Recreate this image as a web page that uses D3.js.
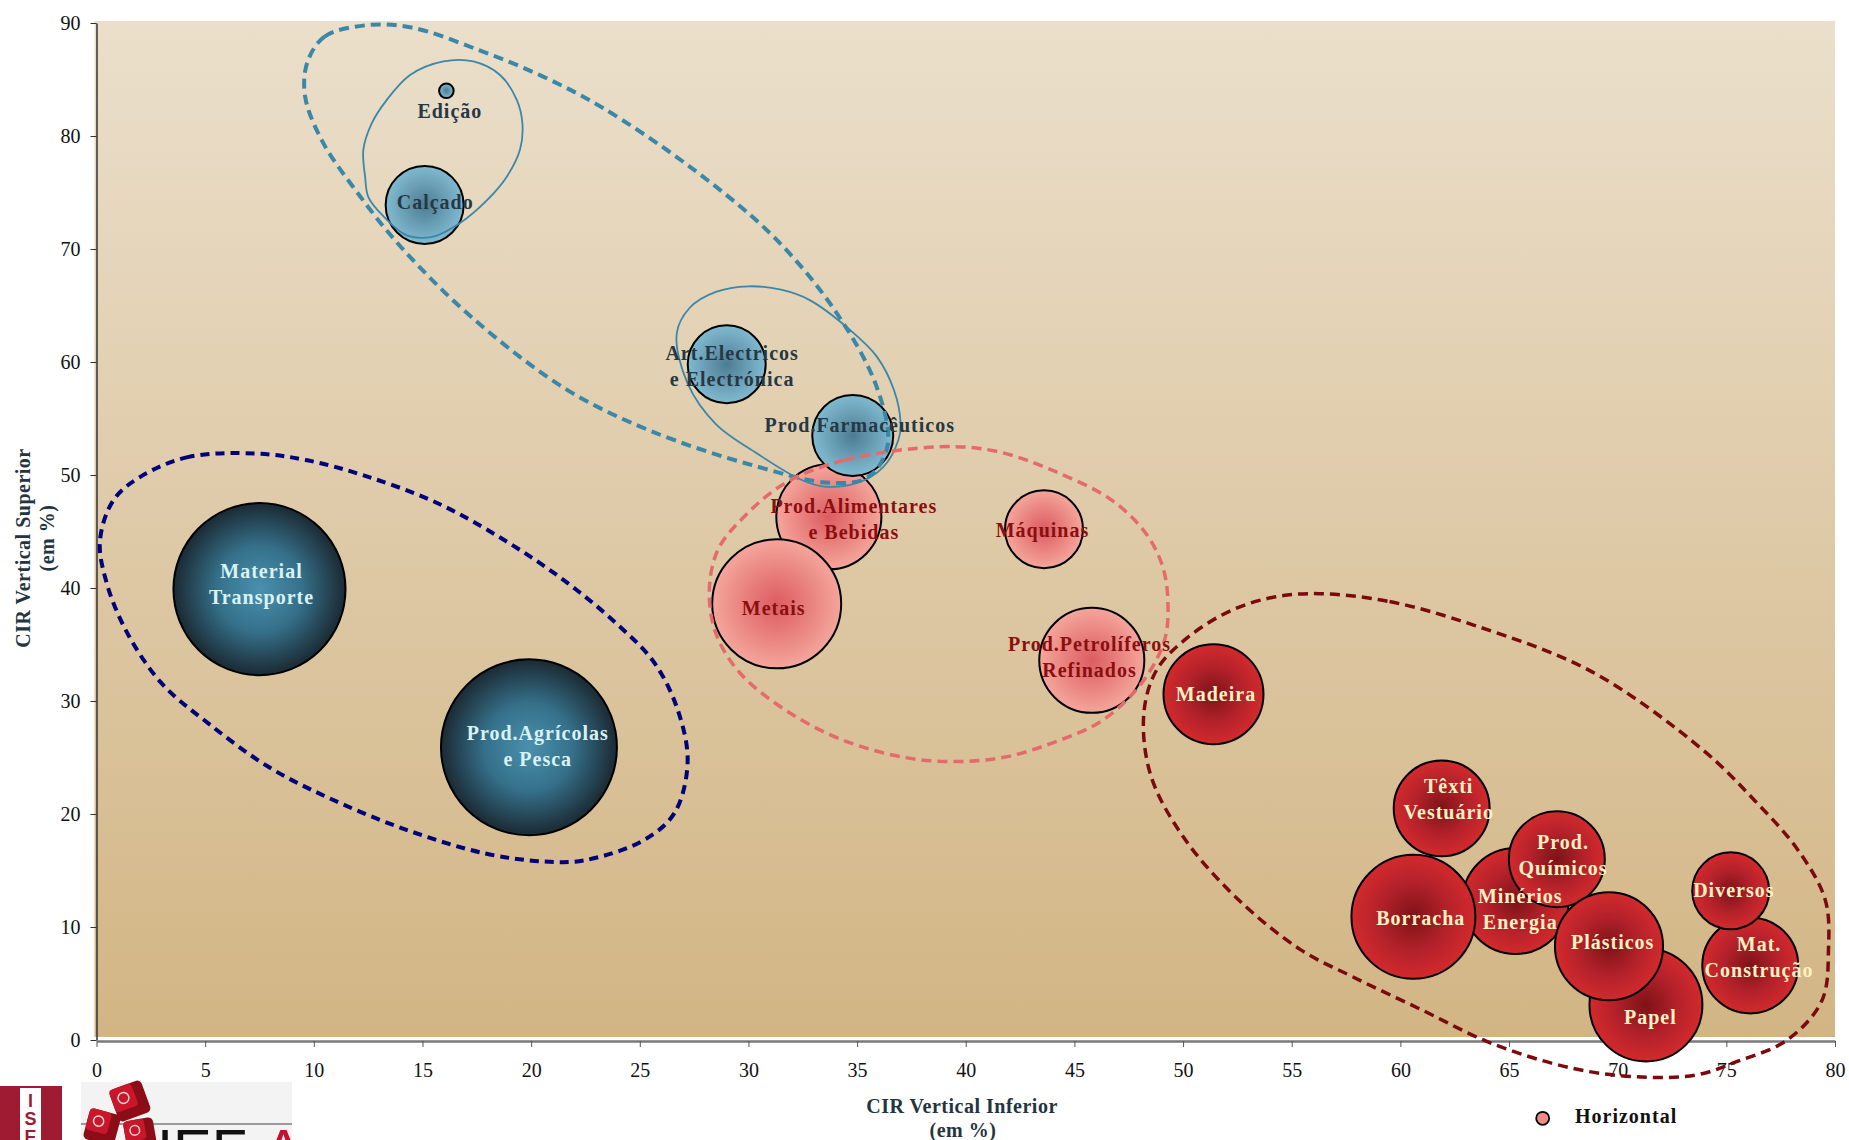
<!DOCTYPE html>
<html><head><meta charset="utf-8">
<script src="https://cdn.jsdelivr.net/npm/d3@7"></script>
<style>body{margin:0;background:#fff;} svg{display:block;}</style>
</head><body>
<svg id="chart" width="1849" height="1140"></svg>
<script>
// ---------------- DATA ----------------
const xTicks = [0,5,10,15,20,25,30,35,40,45,50,55,60,65,70,75,80];
const yTicks = [0,10,20,30,40,50,60,70,80,90];

// Horizontal (pink)
const horizNames = ["Prod.Alimentares\ne Bebidas","Metais","Máquinas","Prod.Petrolíferos\nRefinados"];
const horizX = [33.7, 31.3, 43.6, 45.8];
const horizY = [46.3, 38.6, 45.2, 33.6];
const horizSize = [27.6, 41.6, 15.2, 27.6];

// Vertical Inferior (dark red)
const infNames = ["Minérios\nEnergia","Papel","Mat.\nConstrução","Prod.\nQuímicos","Borracha","Plásticos","Diversos","Têxti\nVestuário","Madeira"];
const infX = [65.3, 71.3, 76.1, 67.2, 60.6, 69.6, 75.2, 61.9, 51.4];
const infY = [12.3, 3.1, 6.6, 16.0, 10.9, 8.3, 13.2, 20.5, 30.6];
const infSize = [28.1, 31.9, 23.0, 23.0, 38.4, 29.2, 14.8, 23.0, 25.0];

// Vertical Superior (light blue)
const supNames = ["Edição","Calçado","Art.Electricos\ne Electrónica","Prod.Farmacêuticos"];
const supX = [16.1, 15.1, 29.0, 34.8];
const supY = [84.0, 73.9, 59.8, 53.5];
const supSize = [0.53, 15.2, 15.2, 16.4];

// Vertical Superior (dark teal)
const darkNames = ["Material\nTransporte","Prod.Agrícolas\ne Pesca"];
const darkX = [7.5, 19.9];
const darkY = [39.9, 25.9];
const darkSize = [74.0, 77.4];

// group outlines (annotation, data units)
const outlineSupBig = [[9.7,86.5],[10.5,88.8],[12.4,89.8],[14.5,89.6],[17.6,87.6],[20.5,85.3],[23.2,82.6],[27.5,77.0],[31.2,71.0],[34.0,64.5],[35.9,57.8],[36.4,52.6],[35.5,49.8],[33.8,49.3],[30.3,50.8],[25.5,53.9],[21.6,57.6],[17.3,63.9],[14.0,70.2],[12.0,75.0],[10.4,79.5],[9.6,83.5]];
const outlineSupA = [[12.36,76.4],[12.28,78.8],[12.66,81.1],[13.36,83.2],[14.43,85.4],[15.96,86.6],[17.34,86.6],[18.57,85.4],[19.34,83.2],[19.6,81.1],[19.49,78.8],[18.88,76.4],[17.96,74.3],[16.73,72.3],[15.5,71.1],[14.28,71.2],[13.2,72.9],[12.51,74.6]];
const outlineSupB = [[26.7,62.5],[27.3,64.8],[28.5,66.2],[30.0,66.7],[31.5,66.4],[32.8,65.5],[34.7,62.8],[35.9,60.5],[36.7,57.5],[37.0,54.6],[36.9,53.1],[36.2,50.7],[35.0,49.3],[33.4,49.0],[32.4,49.6],[30.4,51.9],[28.5,54.5],[27.2,58.1]];
const outlineDark = [[7.35,51.9],[4.25,51.6],[2.07,49.9],[0.79,47.8],[0.16,44.2],[0.43,40.7],[1.34,36.3],[2.98,31.6],[5.16,28.0],[7.89,24.2],[10.6,21.5],[14.26,18.6],[17.9,16.5],[20.6,15.8],[22.45,15.9],[25.2,17.7],[26.6,20.1],[27.2,24.5],[26.8,28.9],[25.7,33.3],[23.9,36.9],[21.5,40.7],[18.8,44.2],[15.7,47.5],[12.4,49.9],[9.7,51.3]];
const outlineHoriz = [[38.8,52.5],[34.4,51.3],[31.7,49.3],[29.8,46.3],[28.6,43.4],[28.2,39.8],[28.5,36.0],[29.6,32.5],[31.7,29.2],[34.4,26.5],[37.9,24.8],[41.4,24.9],[44.0,26.3],[46.3,28.3],[48.1,31.6],[49.15,35.4],[49.3,38.9],[49.06,41.9],[48.3,44.8],[46.7,47.8],[44.0,50.4],[41.4,52.1]];
const outlineInf = [[56.3,39.5],[59.5,38.8],[63.4,36.7],[68.8,32.6],[73.9,25.7],[76.3,21.2],[78.3,16.8],[79.55,12.4],[79.7,8.0],[79.4,3.5],[77.8,0],[75.5,-1.9],[73.6,-3.1],[70.8,-3.25],[67.9,-2.5],[64.2,-0.3],[61.0,2.65],[57.8,5.6],[55.4,8.0],[52.5,12.5],[50.0,18.0],[48.5,23.5],[48.2,29.0],[48.8,32.8],[50.2,35.6],[52.2,38.0],[54.2,39.2]];

// label nudges (pixels, layout only)
const horizLab = [[25,2],[-3,4.5],[-1.5,0.7],[-2.3,-3.8]];
const infLab = [[4.7,8],[4.4,11.8],[8.8,-8.3],[6.2,-4.4],[7.4,1],[3.7,-3.9],[3.1,-1],[7,-9.8],[2.5,0]];
const supLab = [[3.5,20],[10.6,-2.5],[5.4,2],[7,-10]];
const darkLab = [[2,-5.6],[8.8,-1.3]];

// ---------------- CHART ----------------
const svg = d3.select("#chart");
const x = d3.scaleLinear().domain([0,80]).range([96.5,1835]);
const y = d3.scaleLinear().domain([0,90]).range([1040,23]);
const r = d3.scaleSqrt().domain([0,100]).range([0,100]);
const SERIF = "'Liberation Serif','Times New Roman',serif";

const defs = svg.append("defs");
const bg = defs.append("linearGradient").attr("id","bg").attr("x1",0).attr("y1",0).attr("x2",0).attr("y2",1);
bg.append("stop").attr("offset","0%").attr("stop-color","#ebdfcb");
bg.append("stop").attr("offset","100%").attr("stop-color","#d2b584");

function radial(id, stops){
  const g = defs.append("radialGradient").attr("id",id).attr("cx","50%").attr("cy","50%").attr("r","50%");
  stops.forEach(s=>g.append("stop").attr("offset",s[0]).attr("stop-color",s[1]));
}
radial("gHoriz", [["0%","#dc5c61"],["55%","#ea8480"],["100%","#f4a69c"]]);
radial("gInf", [["0%","#7c1317"],["55%","#b3212a"],["100%","#d22a2d"]]);
radial("gSup", [["0%","#4d7c92"],["55%","#6a9fb6"],["100%","#80bad0"]]);
radial("gDark", [["0%","#4a90ad"],["50%","#35708a"],["100%","#1b2a33"]]);

svg.append("rect")
  .attr("x", x(0)-2).attr("y", y(90)-2)
  .attr("width", x(80)-x(0)+2).attr("height", y(0)-y(90)-1)
  .attr("fill","url(#bg)");

// axes
const gy = svg.append("g").attr("transform",`translate(${x(0)},0)`)
  .call(d3.axisLeft(y).tickValues(yTicks).tickSize(6).tickSizeOuter(0).tickPadding(10));
gy.select(".domain").attr("stroke","#333").attr("stroke-width",1.5);
gy.selectAll(".tick line").attr("stroke","#333");
gy.selectAll("text").attr("font-family",SERIF).attr("font-size",20).attr("fill","#111");

const gx = svg.append("g").attr("transform",`translate(0,${y(0)+1})`)
  .call(d3.axisBottom(x).tickValues(xTicks).tickSize(6).tickSizeOuter(0).tickPadding(16));
gx.select(".domain").attr("stroke","#7a7a7a").attr("stroke-width",2.5);
gx.selectAll(".tick line").attr("stroke","#555");
gx.selectAll("text").attr("font-family",SERIF).attr("font-size",20).attr("fill","#111");

// axis titles
const titleColor = "#243540";
const xt = svg.append("text").attr("font-family",SERIF).attr("font-weight","bold").attr("font-size",20)
  .attr("fill",titleColor).attr("text-anchor","middle").attr("letter-spacing",0.5);
xt.append("tspan").attr("x",962).attr("y",1113).text("CIR Vertical Inferior");
xt.append("tspan").attr("x",963).attr("y",1137).text("(em %)");

const yt = svg.append("g").attr("transform","translate(0,548) rotate(-90)");
yt.append("text").attr("x",0).attr("y",30).attr("font-family",SERIF).attr("font-weight","bold").attr("font-size",20)
  .attr("fill",titleColor).attr("text-anchor","middle").attr("letter-spacing",0.5).text("CIR Vertical Superior");
yt.append("text").attr("x",10).attr("y",54).attr("font-family",SERIF).attr("font-weight","bold").attr("font-size",20)
  .attr("fill",titleColor).attr("text-anchor","middle").attr("letter-spacing",0.5).text("(em %)");

// bubbles
function series(names, xs, ys, sizes, grad){
  const data = names.map((n,i)=>({n, x:xs[i], y:ys[i], s:sizes[i]}));
  svg.append("g").selectAll("circle").data(data).join("circle")
    .attr("cx",d=>x(d.x)).attr("cy",d=>y(d.y)).attr("r",d=>r(d.s))
    .attr("fill",`url(#${grad})`).attr("stroke","#000").attr("stroke-width",2);
  return data;
}
const dH = series(horizNames, horizX, horizY, horizSize, "gHoriz");
const dI = series(infNames, infX, infY, infSize, "gInf");
const dS = series(supNames, supX, supY, supSize, "gSup");
const dD = series(darkNames, darkX, darkY, darkSize, "gDark");

// outlines
const line = d3.line().x(d=>x(d[0])).y(d=>y(d[1])).curve(d3.curveCatmullRomClosed.alpha(0.5));
function outline(pts, color, width, dash){
  const p = svg.append("path").attr("d", line(pts)).attr("fill","none")
    .attr("stroke",color).attr("stroke-width",width);
  if(dash) p.attr("stroke-dasharray",dash);
}
outline(outlineSupA, "#3b87a8", 1.8, null);
outline(outlineSupB, "#3b87a8", 1.8, null);
outline(outlineSupBig, "#3b87a8", 4, "10,6");
outline(outlineDark, "#00007a", 4, "9,6");
outline(outlineHoriz, "#e56a6b", 3.5, "10,6");
outline(outlineInf, "#7a0a0c", 3.5, "10,6");

// labels
function labels(data, nudges, color){
  data.forEach((d,i)=>{
    const lines = d.n.split("\n");
    const cx = x(d.x) + nudges[i][0];
    const base = y(d.y) + 7 - (lines.length-1)*13 + nudges[i][1];
    const t = svg.append("text").attr("font-family",SERIF).attr("font-weight","bold")
      .attr("font-size",20).attr("letter-spacing",1).attr("fill",color).attr("text-anchor","middle");
    lines.forEach((l,k)=>t.append("tspan").attr("x",cx).attr("y",base+k*26).text(l));
  });
}
labels(dH, horizLab, "#8a0f10");
labels(dI, infLab, "#fff1c2");
labels(dS, supLab, "#263844");
labels(dD, darkLab, "#d8f2f6");

// legend
const lg = svg.append("g");
lg.append("circle").attr("cx",1542.7).attr("cy",1118.3).attr("r",6.5)
  .attr("fill","#ef8a88").attr("stroke","#000").attr("stroke-width",1.8);
lg.append("text").attr("x",1575).attr("y",1123).attr("font-family",SERIF).attr("font-weight","bold")
  .attr("font-size",20).attr("letter-spacing",1).attr("fill","#111").text("Horizontal");

// logos (decorative)
const logo = svg.append("g");
logo.append("path").attr("d","M0,1086 L62,1086 L62,1140 L0,1140 Z").attr("fill","#9e1b32");
logo.append("rect").attr("x",20).attr("y",1088).attr("width",21).attr("height",52).attr("fill","#fff");
["I","S","E"].forEach((c,i)=>logo.append("text").attr("x",30.5).attr("y",1107+i*18)
  .attr("text-anchor","middle").attr("font-family","'Liberation Sans',Arial,sans-serif")
  .attr("font-weight","bold").attr("font-size",18).attr("fill","#9e1b32").text(c));
logo.append("rect").attr("x",81).attr("y",1082).attr("width",211).attr("height",58).attr("fill","#f3f3f3");
logo.append("line").attr("x1",81).attr("x2",292).attr("y1",1124).attr("y2",1124).attr("stroke","#9a9a9a").attr("stroke-width",2);
function die(cx,cy,s,rot){
  const g = logo.append("g").attr("transform",`translate(${cx},${cy}) rotate(${rot})`);
  g.append("rect").attr("x",-s/2).attr("y",-s/2).attr("width",s).attr("height",s).attr("rx",5).attr("fill","#8c0d18");
  g.append("rect").attr("x",-s/2).attr("y",-s/2).attr("width",s*0.7).attr("height",s*0.7).attr("rx",4).attr("fill","#c8172a");
  g.append("circle").attr("cx",-s*0.15).attr("cy",-s*0.15).attr("r",s*0.16).attr("fill","none").attr("stroke","#f3d0d3").attr("stroke-width",1.5);
}
die(130,1101,34,-20);
die(102,1127,32,15);
die(140,1134,30,-10);
logo.append("text").attr("x",157).attr("y",1170).attr("font-family","'Liberation Sans',Arial,sans-serif")
  .attr("font-size",58).attr("fill","#111").text("IEF");
logo.append("text").attr("x",264).attr("y",1170).attr("font-family","'Liberation Sans',Arial,sans-serif")
  .attr("font-size",58).attr("fill","#c8102e").text("A");
</script>
</body></html>
